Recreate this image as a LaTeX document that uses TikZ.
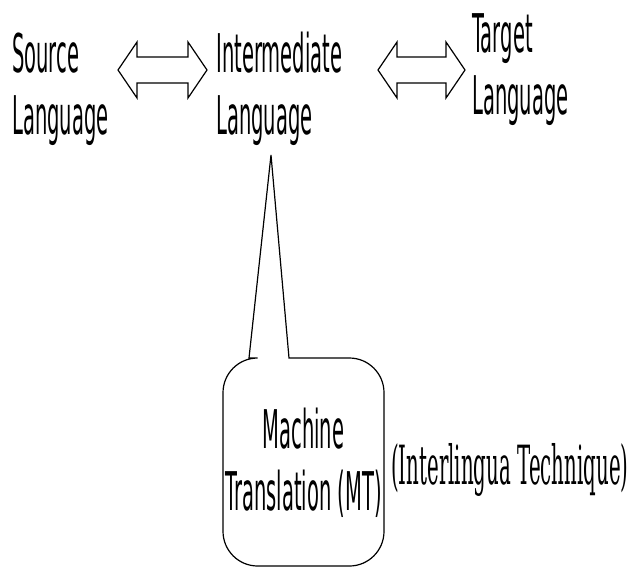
\documentclass[tikz,border=0pt]{standalone}
\usepackage{fontspec}
\usepackage{graphicx}
\newfontfamily\labelfont{DejaVu Sans}
\newfontfamily\notefont{DejaVu Serif}
% narrow (condensed) text block, first line on the baseline
\newcommand\narrowtext[2][l]{\scalebox{0.366}[1]{\begin{tabular}[t]{@{}#1@{}}#2\end{tabular}}}
\tikzset{
  lang/.style={inner sep=0pt, anchor=base west, font=\labelfont\fontsize{40}{46.5}\selectfont},
  mtlabel/.style={inner sep=0pt, anchor=base, font=\labelfont\fontsize{40}{46.5}\selectfont},
  techlabel/.style={inner sep=0pt, anchor=base west, font=\notefont\fontsize{40.5}{46.5}\selectfont},
  blockarrow/.style={draw, line width=0.9pt, line join=miter},
  bubble/.style={draw, line width=0.9pt, line cap=round}
}

\begin{document}
\begin{tikzpicture}[x=0.75pt,y=-0.75pt]
  \useasboundingbox (0,0) rectangle (641,567);

  % languages
  \node[lang] (src) at (12,72) {\narrowtext{Source\\Language}};
  \node[lang] (inter) at (216,72) {\narrowtext{Intermediate\\Language}};
  \node[lang] (tgt) at (472,53) {\narrowtext{Target\\Language}};

  % two-headed block arrows
  \foreach \a/\b in {118/207, 378/465}
    \draw[blockarrow] (\a,70) -- ({\a+19},42) -- ({\a+19},57) -- ({\b-19},57)
      -- ({\b-19},42) -- (\b,70) -- ({\b-19},98) -- ({\b-19},83)
      -- ({\a+19},83) -- ({\a+19},98) -- cycle;

  % callout box
  \coordinate (tip) at (271,155);
  \draw[bubble] (249,358) -- (tip) -- (289,358) [rounded corners=26]
    -- (384,358) -- (384,566) -- (223,566) -- (223,358) -- (249,358);
  \node[mtlabel] (mt) at (303.5,448) {\narrowtext[c]{Machine\\Translation (MT)}};
  \node[techlabel] (tech) at (391,484) {\narrowtext{(Interlingua Technique)}};
\end{tikzpicture}
\end{document}
